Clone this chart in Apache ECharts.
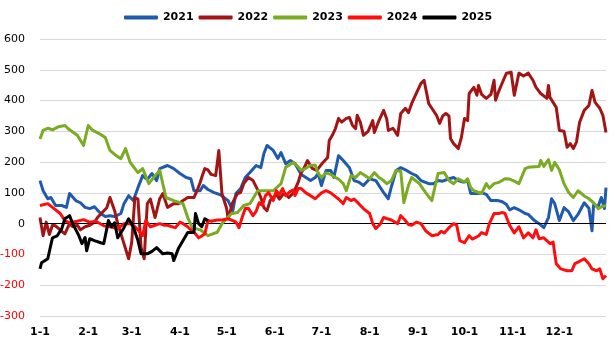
<!DOCTYPE html>
<html><head><meta charset="utf-8">
<script src="https://cdn.jsdelivr.net/npm/echarts@6/dist/echarts.min.js"></script>
<style>html,body{margin:0;padding:0;background:#fff}#c{width:616px;height:358px}</style>
</head><body><div id="c"></div>
<script>
// Days per month (used to build the 365 daily category labels "M-D")
const monthLengths = [31,28,31,30,31,30,31,31,30,31,30,31];
const yMin = -300, yMax = 600, yStep = 100;
const seriesNames = ['2021','2022','2023','2024','2025'];

// [day-of-year index, value]
const s2021 = [[0,140],[2,107],[5,81],[7,85],[10,59],[14,59],[17,53],[19,98],[23,75],[26,68],[29,53],[32,49],[35,55],[39,33],[42,23],[45,26],[48,23],[52,33],[54,65],[57,91],[60,75],[63,117],[66,156],[69,143],[72,163],[75,140],[77,179],[82,189],[86,179],[90,163],[94,150],[97,146],[99,107],[103,107],[105,124],[108,111],[112,101],[116,94],[121,75],[124,42],[126,98],[129,114],[132,150],[135,166],[139,189],[142,182],[144,228],[146,254],[150,238],[153,212],[155,231],[158,195],[161,205],[164,195],[168,160],[171,150],[174,140],[177,150],[179,163],[181,124],[184,173],[187,173],[189,150],[192,221],[195,205],[199,182],[202,140],[205,135],[208,124],[212,146],[216,140],[218,124],[221,101],[224,81],[226,120],[229,173],[232,182],[235,175],[239,163],[242,156],[245,140],[250,130],[253,130],[256,140],[259,138],[263,146],[266,150],[269,140],[272,135],[275,140],[277,98],[282,98],[284,101],[287,95],[290,75],[294,75],[297,72],[300,62],[302,45],[305,52],[308,45],[312,33],[314,30],[318,10],[321,0],[324,-13],[327,20],[329,81],[331,65],[334,10],[337,52],[340,38],[343,10],[346,30],[350,68],[353,50],[355,-23],[356,60],[359,57],[361,85],[363,49],[364,117]];
const s2022 = [[0,20],[2,-39],[4,5],[6,-35],[8,-5],[10,-7],[13,-20],[16,-33],[19,0],[21,-10],[24,-5],[26,-20],[29,-10],[32,-5],[35,5],[37,20],[40,36],[43,52],[45,85],[48,42],[50,0],[54,-65],[57,-114],[59,-60],[61,85],[63,80],[65,-78],[67,-114],[69,65],[71,80],[74,20],[77,81],[79,98],[82,53],[86,65],[89,65],[92,75],[95,85],[99,85],[101,107],[103,134],[104,150],[106,179],[108,175],[110,160],[113,156],[115,238],[117,98],[120,50],[121,16],[124,70],[127,98],[129,101],[131,130],[134,150],[137,140],[140,110],[142,85],[144,52],[146,42],[148,75],[152,95],[154,80],[157,100],[160,85],[163,100],[166,134],[168,166],[170,182],[172,205],[175,180],[178,173],[182,199],[185,215],[186,270],[188,287],[190,309],[192,342],[194,330],[197,342],[199,345],[201,319],[203,309],[204,352],[206,330],[208,287],[211,300],[214,335],[215,296],[218,335],[221,368],[223,340],[224,303],[227,310],[230,287],[232,358],[235,375],[237,361],[239,390],[242,423],[245,456],[247,466],[250,390],[252,375],[255,352],[257,326],[259,350],[261,358],[263,350],[264,277],[266,260],[269,244],[271,280],[273,342],[275,335],[276,423],[279,443],[281,417],[282,449],[284,420],[287,407],[290,420],[292,466],[293,401],[295,430],[298,466],[300,489],[303,492],[305,417],[308,489],[311,480],[314,489],[317,466],[319,443],[322,423],[326,407],[327,449],[328,410],[330,394],[332,378],[334,303],[337,300],[339,248],[341,260],[343,244],[345,265],[347,329],[350,368],[353,384],[355,433],[357,394],[360,375],[362,352],[364,296]];
const s2023 = [[0,275],[1,277],[2,303],[5,310],[8,305],[12,315],[16,319],[19,305],[24,287],[28,254],[31,319],[34,303],[39,290],[42,280],[45,238],[48,225],[52,211],[55,244],[58,199],[63,166],[66,179],[70,130],[74,156],[77,173],[81,85],[86,75],[92,65],[95,20],[98,-13],[103,-20],[108,-39],[114,-28],[117,0],[123,32],[127,36],[131,59],[135,65],[140,107],[146,107],[150,107],[155,130],[158,183],[163,199],[166,185],[168,173],[171,180],[174,190],[177,190],[179,163],[181,150],[184,165],[187,160],[190,150],[192,145],[195,130],[197,107],[200,156],[203,150],[206,166],[208,160],[212,146],[215,166],[218,150],[221,140],[223,130],[226,140],[229,173],[232,170],[234,68],[237,125],[239,150],[244,130],[248,101],[252,75],[254,120],[256,163],[260,166],[263,140],[266,130],[269,146],[273,135],[275,146],[277,117],[279,107],[284,98],[287,130],[289,115],[292,130],[295,134],[299,146],[302,145],[305,138],[308,130],[312,179],[314,183],[318,185],[321,186],[322,205],[324,186],[327,208],[329,173],[331,199],[334,175],[337,130],[340,101],[343,85],[346,107],[350,90],[353,81],[356,68],[359,49],[361,55],[364,59]];
const s2024 = [[0,59],[5,65],[8,53],[13,33],[16,10],[19,3],[24,8],[28,13],[32,5],[36,8],[41,-7],[45,-10],[50,-16],[54,0],[58,0],[61,-10],[63,-20],[66,-39],[68,10],[71,-10],[74,-5],[77,0],[80,-5],[82,-5],[85,-10],[87,-13],[90,5],[92,0],[95,-10],[97,-20],[100,-33],[102,-46],[104,-40],[106,-33],[108,10],[110,8],[114,12],[117,12],[121,16],[124,10],[126,5],[128,-13],[130,20],[132,49],[134,50],[137,26],[139,40],[141,68],[143,60],[145,91],[147,101],[150,75],[152,107],[154,95],[156,114],[158,91],[161,105],[163,110],[164,91],[166,114],[168,114],[171,100],[174,91],[177,81],[181,100],[184,107],[187,100],[190,88],[192,80],[195,65],[197,85],[200,75],[202,80],[205,65],[208,49],[212,33],[214,0],[216,-16],[219,0],[221,20],[224,15],[226,12],[230,0],[232,26],[235,10],[237,-3],[239,-5],[242,5],[245,0],[248,-23],[252,-39],[256,-35],[258,-25],[260,-30],[263,-13],[266,0],[268,-5],[270,-55],[273,-62],[276,-39],[278,-50],[282,-40],[284,-29],[287,-35],[289,0],[292,33],[295,33],[297,36],[299,34],[302,-5],[305,-30],[308,-10],[311,-46],[314,-30],[317,-46],[319,-20],[321,-49],[324,-46],[328,-65],[330,-60],[332,-130],[335,-147],[339,-153],[342,-153],[344,-130],[346,-125],[350,-114],[353,-130],[355,-147],[358,-153],[360,-147],[362,-179],[364,-169]];
const s2025 = [[0,-147],[1,-127],[5,-114],[6,-108],[8,-46],[11,-40],[14,-16],[16,16],[19,26],[21,0],[25,-39],[27,-65],[29,-45],[30,-88],[32,-49],[35,-55],[39,-62],[41,-65],[44,10],[46,-10],[48,3],[50,-46],[54,-13],[57,16],[60,-10],[63,-55],[65,-98],[69,-98],[72,-90],[75,-78],[79,-98],[82,-95],[85,-98],[86,-120],[89,-81],[92,-55],[95,-29],[99,-29],[100,33],[102,0],[104,-10],[106,16],[108,10]];

const colors = ['#1f5aad','#a31515','#7aab22','#ff0d0d','#000000'];
const allData = [s2021, s2022, s2023, s2024, s2025];

const dayNames = [];
monthLengths.forEach((n, m) => { for (let d = 1; d <= n; d++) dayNames.push((m + 1) + '-' + d); });

const FONT = 'DejaVu Sans';
const chart = echarts.init(document.getElementById('c'), null, {renderer: 'canvas'});

const lines = seriesNames.map((name, i) => ({
  name: name, type: 'line', data: allData[i], symbol: 'none', showSymbol: false,
  z: 3 + i,
  lineStyle: {color: colors[i], width: 3, join: 'round'},
  itemStyle: {color: colors[i]},
  emphasis: {disabled: true}
}));

const option = {
  animation: false,
  legend: {
    data: seriesNames.map(n => ({name: n, icon: 'roundRect'})),
    top: 7, left: 'center',
    itemWidth: 34, itemHeight: 4, itemGap: 5,
    textStyle: {fontFamily: FONT, fontWeight: 'bold', fontSize: 11, color: '#000'}
  },
  grid: {left: 40, right: 10, top: 39, bottom: 42, outerBoundsMode: 'none', containLabel: false},
  xAxis: {
    type: 'category', data: dayNames, boundaryGap: false,
    axisLine: {show: false}, axisTick: {show: false}, splitLine: {show: false},
    axisLabel: {
      interval: function (idx, val) { return val.split('-')[1] === '1'; },
      margin: 11, fontFamily: FONT, fontWeight: 'bold', fontSize: 11, color: '#000'
    }
  },
  yAxis: {
    type: 'value', min: yMin, max: yMax, interval: yStep,
    axisLine: {show: false}, axisTick: {show: false},
    splitLine: {lineStyle: {color: '#d9d9d9', width: 1}},
    axisLabel: {
      margin: 15,
      formatter: v => v < 0 ? '{n|' + v + '}' : '{p|' + v + '}',
      rich: {
        n: {color: '#ff0000', fontFamily: FONT, fontSize: 11},
        p: {color: '#000', fontFamily: FONT, fontSize: 11}
      }
    }
  },
  series: [{
    name: 'zero', type: 'line', data: [], z: 2, silent: true,
    markLine: {silent: true, symbol: 'none', label: {show: false},
      lineStyle: {color: '#000', width: 1, type: 'solid'}, data: [{yAxis: 0}]}
  }].concat(lines)
};
chart.setOption(option);
</script></body></html>
